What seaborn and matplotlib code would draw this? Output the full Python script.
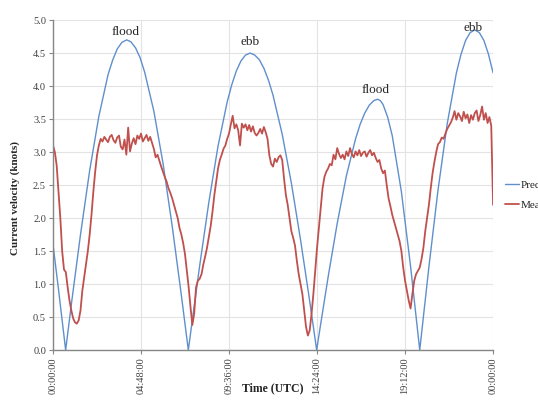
#!/usr/bin/env python3
import numpy as np
import pandas as pd
import matplotlib
matplotlib.use("Agg")
import matplotlib.pyplot as plt
import seaborn as sns

# predicted tidal current (knots)
pred_hours = [0.0, 0.3, 0.69, 1.0, 1.5, 2.0, 2.5, 3.0, 3.25, 3.5, 3.75, 4.02, 4.25, 4.5,
              4.75, 5.0, 5.5, 6.0, 6.5, 7.0, 7.38, 7.5, 8.0, 8.5, 9.0, 9.5, 9.75, 10.0,
              10.25, 10.5, 10.75, 11.0, 11.25, 11.5, 11.75, 12.0, 12.5, 13.0, 13.5, 14.0,
              14.38, 14.5, 15.0, 15.5, 16.0, 16.5, 16.75, 17.0, 17.25, 17.5, 17.7, 17.85,
              18.0, 18.25, 18.5, 19.0, 19.5, 20.0, 20.5, 21.0, 21.5, 22.0, 22.25, 22.5,
              22.75, 23.0, 23.25, 23.5, 23.75, 24.0]
pred_knots = [1.60, 0.92, 0.00, 0.69, 1.75, 2.72, 3.54, 4.17, 4.39, 4.56, 4.66, 4.70, 4.67, 4.58,
              4.43, 4.21, 3.62, 2.83, 1.88, 0.83, 0.00, 0.25, 1.28, 2.24, 3.09, 3.76, 4.02, 4.23,
              4.38, 4.47, 4.50, 4.47, 4.40, 4.27, 4.09, 3.86, 3.27, 2.53, 1.67, 0.74,
              0.00, 0.22, 1.10, 1.92, 2.64, 3.20, 3.42, 3.59, 3.71, 3.78, 3.80, 3.78,
              3.72, 3.53, 3.25, 2.40, 1.27, 0.00, 1.26, 2.43, 3.43, 4.20, 4.48, 4.69,
              4.81, 4.85, 4.81, 4.69, 4.48, 4.20]

# measured current (knots), one value every 6 minutes
meas_knots = [
    3.10, 3.00, 2.80, 2.40, 2.00, 1.50, 1.22, 1.18, 0.95, 0.75,
    0.60, 0.48, 0.42, 0.40, 0.45, 0.60, 0.90, 1.10, 1.30, 1.50,
    1.75, 2.05, 2.40, 2.70, 2.95, 3.10, 3.20, 3.16, 3.23, 3.19,
    3.15, 3.23, 3.26, 3.18, 3.14, 3.22, 3.25, 3.08, 3.04, 3.19,
    2.96, 3.37, 3.01, 3.13, 3.21, 3.12, 3.25, 3.20, 3.28, 3.16,
    3.21, 3.26, 3.17, 3.23, 3.14, 3.05, 2.92, 2.96, 2.87, 2.78,
    2.70, 2.62, 2.55, 2.45, 2.38, 2.30, 2.20, 2.10, 2.00, 1.85,
    1.75, 1.62, 1.45, 1.20, 0.95, 0.65, 0.38, 0.55, 0.95, 1.05,
    1.08, 1.15, 1.30, 1.42, 1.55, 1.72, 1.88, 2.10, 2.35, 2.55,
    2.75, 2.88, 2.96, 3.05, 3.10, 3.20, 3.28, 3.42, 3.55, 3.36,
    3.42, 3.33, 3.10, 3.43, 3.37, 3.42, 3.33, 3.41, 3.31, 3.39,
    3.29, 3.25, 3.29, 3.35, 3.28, 3.38, 3.30, 3.20, 2.95, 2.82,
    2.78, 2.90, 2.85, 2.92, 2.95, 2.88, 2.60, 2.35, 2.20, 2.00,
    1.80, 1.70, 1.58, 1.35, 1.15, 1.00, 0.85, 0.60, 0.35, 0.22,
    0.30, 0.55, 0.85, 1.20, 1.55, 1.85, 2.15, 2.45, 2.62, 2.70,
    2.75, 2.82, 2.80, 2.96, 2.89, 3.06, 2.97, 2.91, 2.96, 2.89,
    3.01, 2.94, 3.06, 2.97, 2.92, 3.01, 2.95, 3.03, 2.94, 2.99,
    3.01, 2.93, 2.99, 3.03, 2.95, 2.99, 2.91, 2.85, 2.88, 2.75,
    2.68, 2.72, 2.50, 2.30, 2.18, 2.05, 1.95, 1.85, 1.75, 1.65,
    1.50, 1.25, 1.05, 0.90, 0.75, 0.63, 0.85, 1.05, 1.15, 1.20,
    1.25, 1.38, 1.55, 1.80, 2.00, 2.20, 2.45, 2.68, 2.85, 3.00,
    3.12, 3.15, 3.22, 3.20, 3.28, 3.35, 3.40, 3.45, 3.52, 3.62,
    3.49, 3.59, 3.54, 3.47, 3.61, 3.51, 3.57, 3.44, 3.56, 3.49,
    3.59, 3.63, 3.47, 3.56, 3.69, 3.49, 3.59, 3.44, 3.53, 3.40,
    2.20]
meas_hours = np.round(np.arange(len(meas_knots)) * 0.1, 1)

tick_hours = [0, 4.8, 9.6, 14.4, 19.2, 24]
tick_labels = ["00:00:00", "04:48:00", "09:36:00", "14:24:00", "19:12:00", "00:00:00"]

phase_labels = ["flood", "ebb", "flood", "ebb"]
phase_x = [3.93, 10.75, 17.57, 22.9]
phase_y = [4.82, 4.67, 3.94, 4.88]

sns.set_style("white")
plt.rcParams['font.family'] = ['Liberation Serif', 'DejaVu Serif']

df_pred = pd.DataFrame(dict(hours=pred_hours, knots=pred_knots))
df_meas = pd.DataFrame(dict(hours=meas_hours, knots=meas_knots))

fig = plt.figure(figsize=(5.38, 4.01), dpi=100)
ax = fig.add_axes([0.0985, 0.127, 0.818, 0.823])

sns.lineplot(x='hours', y='knots', data=df_pred, ax=ax, color='#5f8fcc',
             linewidth=1.0, label='Predicted')
sns.lineplot(x='hours', y='knots', data=df_meas, ax=ax, color='#c0504d',
             linewidth=1.3, label='Measured')

ax.set_xlim(0, 24)
ax.set_ylim(0, 5)
ax.set_yticks(np.arange(0, 5.01, 0.5))
ax.set_yticklabels([f"{v:.1f}" for v in np.arange(0, 5.01, 0.5)], fontsize=7.5, color='#404040')
ax.set_xticks(tick_hours)
ax.set_xticklabels(tick_labels, rotation=90, fontsize=7.5, color='#404040')
ax.tick_params(axis='both', length=3, width=0.8, color='#868686', pad=2, direction='out')
ax.tick_params(axis='y', left=True)
ax.tick_params(axis='x', bottom=True)
ax.grid(True, color='#e3e3e3', linewidth=0.8)

for s in ['top', 'right']:
    ax.spines[s].set_visible(False)
for s in ['left', 'bottom']:
    ax.spines[s].set_color('#868686')
    ax.spines[s].set_linewidth(1.0)

ax.set_xlabel("Time (UTC)", fontsize=8.5, fontweight='bold')
ax.xaxis.set_label_coords(0.5, -0.097)
ax.set_ylabel("Current velocity (knots)", fontsize=8, fontweight='bold')
ax.yaxis.set_label_coords(-0.075, 0.46)

for lab, x, y in zip(phase_labels, phase_x, phase_y):
    ax.text(x, y, lab, ha='center', va='center', fontsize=9.5)

# legend sits past the right edge, cropped like the original
ax.legend(loc='center left', bbox_to_anchor=(1.005, 0.47), frameon=False,
          fontsize=8, handlelength=1.2, handletextpad=0.2, labelspacing=0.9)

plt.savefig('out.png', dpi=100)
